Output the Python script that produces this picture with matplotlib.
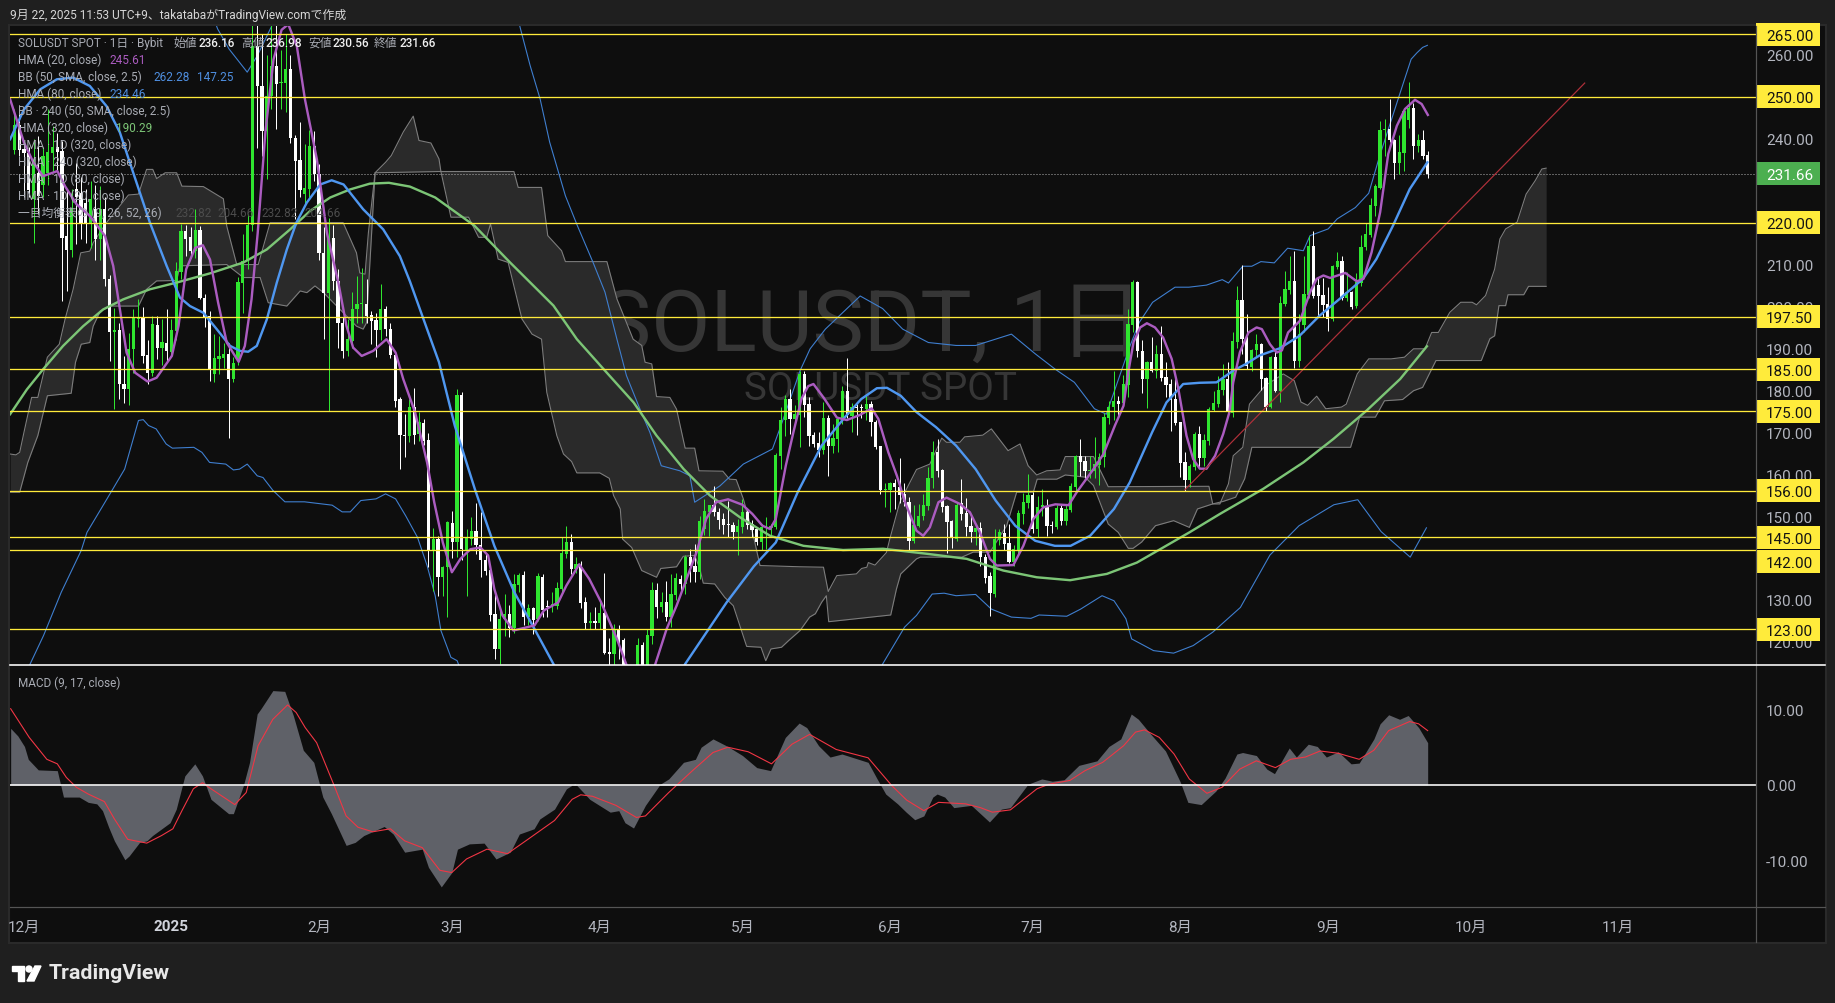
import numpy as np
import matplotlib
matplotlib.use('Agg')
import matplotlib.pyplot as plt
from matplotlib.patches import Rectangle, Polygon, Circle

plt.rcParams['font.family'] = ['Roboto', 'Noto Sans CJK JP', 'DejaVu Sans']

# daily candles, first one is 2024-11-29, day 0 = 2024-12-01
first_day = -2
open_px = [
    237.3,243.2,237.5,236.5,225.6,231.9,228.9,231.9,236.7,238.1,
    237.1,216.8,213.5,228,227,224.8,220,223.2,216,223.2,
    206.5,193.8,194.5,181.4,180.2,189.9,196.9,197.3,188.4,184.2,
    195.6,190,191.4,189.2,194.2,208.2,218,216.6,213.2,218.2,
    202.1,197.7,183.8,187.4,187.8,188.7,182.6,187.4,205.7,210.9,
    219.4,262.1,252.6,241.9,250.2,257.4,253.2,253.2,256.6,240.3,
    234.9,226.9,228.1,238.3,231.5,212.8,203.3,216.4,206.1,196,
    189.4,191.8,199.3,200.5,200.7,197.9,196.7,194.3,199.3,194.7,
    188.4,177.9,169.3,169.2,175.9,169.6,172.2,168.1,141.8,144.5,
    135.4,137.8,148.3,143.7,178.9,142,144.5,146.5,143.1,139.5,
    137.1,126.6,118.3,125.5,126.6,123.2,133.6,135.9,125.9,128,
    125.5,135.4,128.6,128.6,128.6,132.6,141,143.7,137.4,138.3,
    129.4,124.5,124.9,124.5,126.9,117.5,117.1,122.9,120.4,112,
    105.5,105,119.2,109,121.5,132.4,128.2,129.6,125.9,131.2,
    135,133.8,140.2,138.2,136.6,146.9,150.9,152.6,151,149.3,
    148.1,147.9,146.1,147.3,151,148.1,146.9,143.7,147.2,147.1,
    147.3,164.4,172.8,177.9,173.2,174.1,183.9,176.7,169.3,167.4,
    165.8,173.3,166.6,168.4,173.3,179.9,173.8,176.1,175.9,175.5,
    176.7,172.4,166.6,156.2,156.3,157.9,156.9,155.3,153.3,144.1,
    147.7,150.1,152.5,159,165.4,161,152.5,148.8,144.5,153.1,
    150.7,147.6,146.3,147.1,140.3,135.6,131.4,144.3,146,143.6,
    139,141.8,150.5,153.1,155,146.8,152.1,152.1,147.9,147.3,
    151.9,148.9,151.5,156.9,164.4,163.2,160.8,160.8,162.3,164,
    173.4,176,177.4,176.9,181.3,195.6,205.9,189.3,182.7,186.7,
    184.7,188.7,183.1,181.5,177.9,172.4,162.9,158.5,161.6,169.6,
    163.8,168,175.4,176.8,180,182.7,174.6,191.5,201.6,192.4,
    185.5,189.5,191.1,182.9,176,187.9,179.9,200.6,204,206,
    187.1,195.6,202.8,214.5,205.1,202.8,200.6,197,209.5,210.8,
    202,203.4,200,205.6,214.1,217.1,223.9,228.3,242,242.3,
    239.6,234.2,236.6,244.6,247.3,238.4,239.6,236.16]
high_px = [
    247,248,239,238,240,240.7,238,247,243,241.5,
    239.5,228,228,234.3,231,228,230,229,228.8,226,
    207.5,199.7,196,188.2,193.7,199.3,201.7,199.9,192,197.7,
    197.7,197,199.3,197,210.6,219.6,219.5,219,223.3,219.2,
    203,198.9,193.4,193,191.4,191.4,188,207,217.2,222,
    270,275,265,260,268,268,261.3,265,260.1,241,
    244,238.7,242,241.9,234,219,221,219.5,209,197.5,
    197,203.4,207.3,209.1,206.5,199,198.5,205.3,200.2,196,
    189,178.5,174.3,178,180.5,174.9,173.2,169.7,147.1,145.3,
    138.2,148.9,151.2,180.3,179.5,146.9,149.7,153.1,150.9,141.3,
    138,131.6,128.6,131.4,128.9,136.2,136.3,136.8,129,128.2,
    136.3,136.2,130,131.8,134.2,144.9,147.6,145.7,140.2,139.3,
    130.6,127,128.2,129.8,136.3,121,124.3,124,121,114,
    112,120.9,120,123,134.2,134,132,134.4,136.2,136.3,
    136,140.6,142.1,143.3,150.1,154,152.7,157.2,152,150.7,
    153.5,148.5,149.3,154,151.7,149,147.5,148,149.8,148,
    165,175.9,178.9,180.3,176.5,184.7,184.7,178.3,170,170,
    177.1,174,172,173.5,181,187.7,177,176.7,176.7,179.1,
    177.5,173,166.6,158,158.1,158.8,163.8,158,154.5,152.6,
    152.9,155.2,161.6,168,168.4,161.2,152.7,149,153.3,158.8,
    154.2,150.1,148,148.7,141,136.6,146.9,147,148.1,148.1,
    143,151.5,155.5,160,155.7,154.7,156.5,154,148.9,152.7,
    152.7,152.9,158,164.6,168.4,164.4,164.4,168.8,165,174.5,
    177.5,184.5,178.7,183.7,199.3,206.3,206.1,191.9,186.9,192.7,
    190.7,195.3,186.7,182.7,182.7,172.4,165.2,162.5,170,171.6,
    169.6,176,179.9,183.3,186.3,186.7,193.8,204.8,209.8,198.2,
    189.9,193.4,191.3,183.2,188.2,189.9,202.4,208.5,212.1,213.3,
    198.2,212.1,216.7,218.1,207,206.7,204.6,209.8,212.9,212.1,
    208.2,203.8,208,217.1,219.8,225.8,229.2,244.2,244.7,249.5,
    240,240.8,247.1,253.5,248.5,241.2,242,236.98]
low_px = [
    236.3,236,226,226,215.2,222,226,229,232,232,
    201.3,203.6,211.7,215,216,215.2,214,211,211.2,204.8,
    187,175.5,178,177,176.6,184.2,195,186.5,181.5,183.5,
    187.4,186,187,188,192,206.5,212,211.6,211.6,201.7,
    195,182.2,182,183.8,185.4,168.7,182,186,198.5,209,
    218,237.9,236,230.3,247,242.3,247,246.5,239,220.9,
    226,224,226,230,211,192.3,175,204,190,187.6,
    188.2,190,196,196.1,196,191,188,192,193,187.8,
    176,161.2,164,167.7,167.2,168,167,137.8,132.2,130.9,
    131,125.9,140,140.2,139.4,130.9,143,141,135.4,136,
    125,115.9,114.7,121.5,121.2,122,132,124,124,121.9,
    125,126,126,127,127.8,131.8,140,136.2,136.5,128,
    123.1,123,123.1,123,117,114.5,114.5,116,108,95,
    100,103,106,107,119.5,125.6,127,125,123.5,130,
    132,131.5,134.2,134.2,135,145.5,145.3,150,147,145.7,
    144.9,144.5,140.6,146,147,145,143,142,142.2,145,
    147,161.2,169,169.6,172,166.4,173.6,166.8,166.4,164.2,
    164.8,159.6,165,165.2,172,173.5,170,169.3,173.5,173,
    169.2,166,155.3,152.1,150.9,151.7,153,152.5,141.7,143.5,
    147.3,149,151.5,156.6,159.4,151,141.2,142.4,144.1,149,
    145.3,143.9,143,138,134,126.2,130.8,143,142,138.8,
    138,141,148,152,146,144.9,150,145.3,146,146.9,
    147.9,147.9,151,156,159.5,159.2,159,159,157.5,161.7,
    172,173,173.6,176,178.5,194,188,179.4,175.8,184.3,
    183,182.3,178.3,170.4,171.8,159.3,156,157,161,161.6,
    162,167,175,176,179,174.6,173.6,190,188.7,185,
    184.5,188,180,175,175.8,179.7,177.1,200,203,185.3,
    185.5,194,202,202,197.4,197.4,194.2,196.5,209,201.6,
    201.2,199.4,199.6,205,213.5,216.5,221.7,228,236,239.3,
    230.3,231.6,232.4,242.5,235.2,236.9,235.3,230.56]
close_px = [
    243.4,237.3,236.5,227.9,233.9,226.4,235.9,236.8,238.1,236.8,
    216.4,213.5,223.6,226,220,220,225.6,216,223.2,206.5,
    193.8,194.4,181.4,180.4,189.8,197.3,197.3,188.2,184.2,195.7,
    190,191.5,189.4,194.4,208.5,218,216,213.2,218.2,202.1,
    197.3,185,187.8,188.2,188.7,182.8,186.6,205.8,210.9,219.4,
    262.1,252.6,241.9,250.2,257.4,253,253.4,256.6,240.3,234.7,
    227.9,228.3,238.3,231.5,212.8,203.3,216.4,206.1,196,189.4,
    192.2,199.3,200.5,200.7,197.7,196.5,194.3,199.3,194.7,188.4,
    177.5,169.3,169,175.9,169.4,172.4,168,141.8,144.5,135.4,
    137.8,148.5,143.7,178.9,142.2,144.8,146.5,143.1,139.4,137,
    126.5,118.3,125.5,126.6,123.2,133.8,135.9,125.9,128,125.2,
    135.6,127.7,128.4,129,132.8,141.2,143.7,137.4,138.6,129.2,
    124.4,124.9,124.5,126.9,117.4,117.1,122.9,120.3,112,105.5,
    107,119.2,109,121.6,132.4,128.2,129.6,125.9,131.4,135.2,
    133.8,140.2,138.2,136.6,148.9,151.2,152.6,151,149,147.9,
    147.9,146.1,147.6,151,147.9,146.7,143.7,147.3,147.5,147.7,
    164.6,172.9,177.9,173.2,174.4,183.9,176.5,169.2,167.2,165.8,
    173.3,166.8,168.6,173.2,179.9,174,175.9,175.8,175.7,176.7,
    172.4,166.4,156.2,156.5,157.9,156.9,155,153.3,144.1,147.9,
    150.1,152.6,159,165.4,160.8,152.2,148.7,144.7,152.7,150.5,
    147.3,146.1,147.1,140.2,135.2,131.7,144.5,146.1,143.4,139,
    142.2,150.7,153.3,155,146.8,152.2,152.6,147.7,147.7,151.9,
    148.9,151.7,157.1,164.4,163,160.8,161,162.4,164,173.7,
    176,177.4,176.8,181.5,195.8,205.9,189.3,182.7,186.7,184.7,
    188.7,182.9,181.3,177.8,172.2,162.7,158.5,162,169.6,163.8,
    168.2,175.6,176.9,180.1,182.7,174.8,191.7,201.6,192.3,185.7,
    189.6,191.1,182.7,176,187.9,179.9,200.8,204.2,206,187.1,
    193.4,203,214.5,202.6,202.6,200.4,197,209.6,210.9,202,
    203.4,199.8,205.8,214.3,217.3,224.1,228.8,242.1,242.3,239.6,
    234.2,236.8,246.7,247.3,238.4,239.6,235.8,231.66]

# overlays: [day], [value]
hma20_d = [-2.9,0,2,4,7,8.6,11,13.8,17,18.7,20,21.5,23.3,25.9,27.8,31,32.4,34,35.9,37.5,39,40.7,42.5,45,46.3,47.7,49,50.6,52.3,54,55.4,57.2,58.9,61.4,63.5,65.9,67.6,69,70.8,73.2,76,77.9,79.5,82,84.5,86,87.8,89.7,91.5,93.6,95.7,97.3,98.6,100.3,102.6,107,109,112,113.7,116.4,118.5,121,124.3,126.3,128.5,130.5,132.3,134.7,136.8,138.9,141,143,145.1,147.6,150.6,152.7,154.8,156.4,157.6,159.7,161.3,163,164.4,165.5,167.6,170.4,172.5,175.2,177.7,179.1,181.2,183,184.7,187.1,188.5,189.9,191.7,193.4,196.2,198.3,200.4,202.5,203.9,207.4,209.5,211.6,213.7,216.2,219,220.7,224.2,226.3,228.7,230.5,231.5,232.6,234,235.4,237.1,238.8,240.6,242,243.7,245.1,246.5,247.9,249.7,251.4,252.7,253.5,254.9,256.7,258.4,259.5,261.2,262.6,263.7,265,267.5,269.6,271,272.4,273.8,277,279.4,280.8,282.5,284.3,286,287.8,289.5,291.6,293,294.3]
hma20_v = [249.4,239.1,234.3,231.1,232.3,228.7,224.4,221.6,216.8,209.7,200.1,189,184.2,182.1,183,188.2,195.4,208.9,214,214.6,211.2,200.9,191.4,186.8,190.6,201.7,217.6,241.5,258.9,266,267.3,262.1,249.4,235.1,217.6,205.7,195.4,190.2,188.2,189.4,192.2,189,182.7,174.7,162.8,153.3,143.7,136.6,139.8,142.1,142.5,140.6,132.6,126.3,122.7,123.9,127.5,129.4,133.4,138.5,135,129.4,120.7,114.5,106,108,114.5,123,128.6,135,141.4,149.3,153.3,154,152.7,150.5,147.7,146.9,149.3,162,170,178,181,181.5,178.3,173.5,172.9,174.1,175.7,173.2,165.2,159.6,153.3,146.5,145.3,147.3,153.3,154.4,152.9,150.9,146.1,139.8,138.2,138.3,142.9,149.3,152.1,152.8,152.6,155.7,161.2,164.8,171.6,176.3,184.3,191.5,195,196,195,192.6,187.5,180.3,169.2,163.6,161.3,161.3,164.4,169.6,174.8,181.9,189.1,193.8,195,194.6,191,189,189.5,193.8,196.6,203.4,206.6,207.4,206.8,208,206,206.6,212.9,222.5,236.4,243.1,247.1,249.3,248.3,245.7]

hma80_d = [-2.9,0,3.4,6.9,10.3,13.8,17.3,20.1,22.9,26.4,29.9,32.7,34.8,37.6,40.4,43.2,45.3,47,48.8,50.9,53,55.1,57.1,59.3,62.1,64.5,67,71.1,75.3,78.8,80.9,84.5,87,90.3,94.5,98.6,102.8,107,111,118,125,132,138.6,147.3,153,157.6,162.2,167.2,172.1,175.5,178.8,180.9,183.8,187.1,191.2,195.4,199.5,203.7,207.8,212,216.1,219.4,223.5,228.5,231.8,236.5,239.5,243,246.5,250,253.5,256.2,259,263.2,267.4,271.6,275.8,280.7,283.5,287,290.5,294.2]
hma80_v = [239.9,247,251.8,254.2,254.6,252.6,247.8,241.5,231.9,220,209.7,202.1,200.1,198.5,194.6,190.6,189.4,189.2,190.6,196.9,205.7,213.6,220,224.8,229.1,230.1,229.1,223.2,218.4,212,206,194.6,186.7,171.6,156.5,142.9,131.8,123.1,114.7,100,92,100,114.7,129.4,138,143.7,155.7,166.8,173.6,177.9,180.5,180.6,178.7,174.8,171.2,166.8,161.2,153.7,147.7,144.1,142.9,142.9,145.3,151.7,158,170,177.1,181.5,181.8,181.9,184.7,186.3,188.3,190,193,197.8,201.8,206.6,211.3,219.3,228,234.4]

hma320_d = [-2.9,.6,4,8.2,12.4,16.6,20.8,26.4,32,39,46,50.9,55.8,60,64.2,68.3,72.5,76.5,80.9,86.2,94.4,101.9,111,115.9,122.1,127.8,132.6,138.3,143.8,150.1,156.4,163.4,171.7,180.1,189.3,197.6,205.3,212.3,219.3,227,233.3,238.2,244.3,250.7,259.8,268.2,274.5,281.5,288.5,294.1]
hma320_v = [174.3,180.2,185,190.6,195.3,199.3,201.7,204.1,205.7,207.9,210.5,213.6,218.4,222.8,226,227.9,229.3,229.5,228.6,226,219.3,210.5,200.2,192.2,184.3,177.1,169.2,161.2,154.9,149.7,145.3,142.9,141.9,142.2,141,139.8,137,135.4,134.7,136.2,138.9,142.1,146.1,150.5,156.5,162.8,168.4,175.2,182.7,190.5]

bb_up_d = [36,40.6,43,46.8,48.9,53,55,100,104,106.1,108.2,110.2,113.5,116,119.3,121.8,124.3,126.3,129.1,131.2,133.6,137.5,139.6,140.6,145.9,150.8,156.9,158.7,162.7,164.8,168,175.3,180,184.2,189.6,195.4,199.5,207,212,216.1,220.2,224.4,226.9,231.9,233.8,236.6,241.3,244.2,247.9,251.2,252.5,255.5,257.4,259.3,262.1,264.9,268.2,269.6,273.4,275.3,279.1,281.9,284.2,288.5,290.8,292,293.2,294.2]
bb_up_v = [280,266.2,261.4,255.9,259.8,269.4,280,285,266.6,257.5,249.5,239.2,226.4,219.3,210.5,203.4,192.2,183.5,175.6,170,162,160.8,159.6,153.3,157.2,162.4,166,171.6,184.7,189.9,194.6,202.5,199.5,194.6,191.4,190.7,190.7,193.4,188.7,185.1,181.9,175.6,174.3,190.7,196.2,201,204.6,204.6,205.1,206.4,205.6,209.6,209.6,210.7,210.4,213.9,213.3,216.9,218.5,220.9,223.6,227,235.9,251,259,260.5,261.8,262.3]
bb_lo_d = [-3,1.2,4.1,7.8,12,13.2,17.4,21.1,24,25,26.1,27.7,29.8,31.1,35.6,37.3,38.9,42.3,43.9,45.2,46.8,48.9,50.1,52.2,54.7,58.8,64.6,66.7,68.4,70.6,73.8,75.8,77.9,80,82.5,84.5,86.2,87.4,89.5,90.8,91.2,95,120,150,175,180,184.6,187.1,190.4,192.9,195.4,199.5,202.8,207,211.1,212.8,218.6,221.5,226,228.5,231,232.2,236.8,241,245.1,249.2,255,261.2,267.3,274.6,279.6,284.5,290.6,294]
bb_lo_v = [108,114.5,121.5,131.8,141.8,146.1,154.1,161.2,172.8,173,171.6,170.8,167.2,166.2,166.4,165.2,162.8,162.4,161,161.2,162.4,159.6,159.2,156.1,153.4,153.4,152.6,151,151,153.7,154.1,155.3,154.1,150.1,144.9,138.2,131,122.7,116.3,115.5,114.3,110,80,75,95,114.7,123.5,126.3,131.4,131.6,131,131.3,127.8,125.9,125.6,126.4,126.1,127.8,131,129.8,125.5,120.7,117.9,117.3,119.1,122.3,128.2,140.7,147.7,152.7,153.9,146.3,140.2,147.2]

# ichimoku cloud, upper and lower edge
cloud_top_d = [-2.9,-1.7,-.9,0,1.6,2.9,4.9,7.4,8.6,10.3,11.9,13.8,14.5,17.3,21.9,24,25.7,27,27.8,29.6,32,33.1,37.6,41.8,42.5,44.6,49.1,51.6,66.9,69.7,70.4,71.5,72.2,73.6,75.8,77,79.5,81.6,82.8,85.3,87,87.4,102.7,103.6,108.5,109.8,112.7,113.5,122.2,124.3,127.7,129.5,130.2,131.6,132.6,135.4,136.8,138.6,140.6,141.5,146.5,147.9,149.3,150.8,152.9,154.3,162.7,167.6,168.6,170.4,174.5,175.6,176.7,177,178.4,180.8,181.5,183.6,187.1,189.9,192.4,193.4,196.2,197.2,201,202.8,206.3,208.8,210.5,212.3,214.4,217.2,218.3,224.2,227.3,248.4,249.2,250.7,252.5,253.5,255.5,256.9,260.2,264,266.3,267.7,269.1,271,272.9,276.2,277.2,279.5,281.9,286.6,289.4,291.3,293.7,295.1,296.5,298.9,301.2,303.6,304.5,306.4,308.3,309.4,310.6,313,314.9,316.8,318.2,319.1]
cloud_top_v = [164.8,164.6,165.2,170,178.3,178.3,187.9,191,196.9,204.1,212.8,213.2,215.2,220,226.6,226.8,232.7,232.7,230.5,231.9,231.9,228.7,228.6,225.7,219.2,210,210,220,220,212.8,208,207.7,217.6,231.9,234.4,236,241.6,245.4,239.6,239,235.2,232.2,232.2,228.4,228.4,216.9,213.3,210.7,210.7,201.8,192.2,190.7,186.7,186.3,178.5,178.3,175.5,166.2,166.2,160.8,160.7,158.8,158.7,154.1,145.3,138.2,137.9,137.8,132,135.8,136.2,137.5,137.8,138.9,138.3,141.3,144.5,153.3,161.1,162.4,168.6,167.6,167.6,168.9,169.3,170.8,165.6,167.2,162,159.8,160.8,161,164.2,164.2,157,157.1,152.9,152.9,157.7,164.4,166.4,176.7,181.1,183.9,182.3,177.2,176.4,178.6,175.6,176,176.7,183.9,187.5,187.5,187.9,189.9,189.9,193.8,193.8,198.6,201,201,200.4,202.6,208.9,216.1,218.5,220.1,226.8,230,232.8,233]
cloud_bot_d = [-2.9,-.9,.8,2.9,4.9,9.9,10.8,12,13.8,14.5,16,18,24,25.7,27.8,32,32.7,42.5,46,49.5,51.2,55.1,57.9,59.3,61,62.8,69.7,71.1,71.8,73.6,87.4,89.5,93.2,95.3,97,97.8,99.4,101.5,104.4,106.5,108.5,109.6,111.7,113.1,114.8,115.9,120.7,122.7,123.6,125,125.5,127.4,129.5,132.6,133.5,136.8,138.2,140.6,141.7,142.4,144.8,146.9,148.7,151.5,154.5,155.5,156.6,158.8,160.3,162.7,164.7,165.9,167.2,168.2,168.7,181.7,182.9,183.8,187.1,187.9,196.6,199,202.5,206,208.1,211.6,212.4,216.5,218.3,222.4,224.2,227.3,229.4,231.5,232.5,234.3,237.2,241,244.3,246,249.2,251.4,254,255.9,257.4,278.1,280,283.3,285.2,289,291.3,293.2,296,305.5,307.3,308.3,309.2,310.6,311.1,314.4,315.4,319.1]
cloud_bot_v = [155.7,155.7,162.8,169.2,178.7,179.3,186.7,191,191.4,195.3,198.9,200.1,200.1,204.1,206.1,206.2,209.7,210,206.9,206.9,200.9,200.1,203.7,203.3,204.9,203.3,195.3,194.6,196.1,231.9,232.2,221.3,221.3,216.5,216.5,219.7,211.3,210.5,197,193.4,192.2,179.5,169.2,164.8,163,160.3,160.3,159,154.9,151.7,144.5,142.5,137,135.4,137.5,137.9,140.4,140.6,137.4,134,133.8,130.6,128.6,118.9,118.7,115.5,118.3,118.7,120.3,122.7,125.9,126.7,129.4,131,124.8,126.4,132.6,136.2,139.8,140.2,140.2,141.4,141.4,147.7,155.7,155.7,158.8,158.8,159.8,159.3,157.3,148.1,146.1,142.3,142.3,143.8,147.7,148.9,147.3,151.7,152.9,153.5,154.5,158.9,166.4,166.4,173.6,173.6,177.5,177.8,179.9,180.7,187.1,187.1,192.3,193,200.2,200.2,202.8,202.8,204.8,204.8]

macd_d = [-2.8,-1.3,.1,.9,3,7,8.3,11.6,13.5,15.3,16.5,17.8,19,21.2,22.1,24.3,25.8,27,30.7,32,33.8,35.9,37.5,39.3,43,44,46.1,47.4,49,49.8,52.3,54.8,56.6,58.7,60.9,62.8,64.6,67.7,69.6,71.4,75.7,77.6,80,83.7,85,87.7,89.9,91.1,93.6,96.7,99.2,102.2,104.1,107.2,108.4,111.5,114,115.8,118.9,123.2,125,126.3,128.1,130.6,133.7,135.5,138.6,141.1,142.3,144.8,147.9,151,154,156.9,160,162.9,164.5,167,169.4,171.9,177.4,179.3,181.1,183.6,185.4,187.2,189.1,191,191.9,193.5,195.4,199.1,202.9,205.4,207.3,211,213.9,216.1,218.6,221.7,225.5,228,230.5,232.7,234.2,236.7,239.9,243,244.6,247.4,250.5,252.4,254.9,256.1,259,261.2,262.8,265.9,267.4,269.9,271.8,273.7,276.2,278.9,280.6,283.7,285,286.8,289.1,290.9,293.1,295]
macd_v = [7.5,6.5,5.1,3.4,2,1.9,-1.6,-1.6,-2.3,-2.5,-3.4,-5.6,-7.4,-9.9,-9.4,-7.6,-7.4,-6.7,-5,-3.2,1.2,2.8,1.2,-1.9,-3.8,-3.8,-.1,3,9.4,10.1,12.5,12.4,9.2,4.6,3,-1.6,-3.8,-8,-7.6,-6.7,-5.5,-6.5,-8.9,-8.5,-10.9,-13.5,-11.6,-8.5,-7.8,-7.7,-9.8,-8.9,-6.5,-5.8,-4.5,-3.2,-.5,.2,-1.9,-3.6,-3.4,-5,-5.7,-2.7,.1,.8,3,3.4,5,6.1,5.1,3.9,2.3,1.9,6.3,8.2,7.6,5.2,3.7,4.1,3,.8,-1.2,-2.5,-3.6,-4.6,-4.1,-1.6,-1.2,-1.6,-3,-2.7,-4.9,-3.2,-3,.1,.8,.5,.7,2.6,3.2,5.1,6.1,9.4,8.7,6.8,4.5,.4,-2.3,-2.6,-.8,.9,4.1,4.3,3.9,2.1,1.5,4.9,3.7,5.4,5.1,3.7,4.4,2.8,2.9,6.1,8.1,9.3,8.7,9.2,7.6,5.6]
signal_d = [-2.8,1.1,4.8,7,8.9,11,13.5,16.9,19,21.8,25.8,28.9,31.3,33.2,35.6,37.5,39.3,44.3,46.7,49.2,52.3,55.4,57.2,59.1,61.5,65.2,67.7,70.2,73.3,77,80,83.7,87.4,89.9,93,97.3,101.6,105.9,111.5,115.2,117,119.5,124.4,128.7,130.6,135.5,140.5,144.8,147.9,152.2,157.1,161.4,165.1,170.7,177.4,182.4,185.5,189.1,192.2,197.9,201,203.5,207.3,212.9,215.4,219.8,223,226.7,231.1,233.6,235.5,238.6,241.7,244.9,248.6,251.8,255.5,259,263,266.2,269.3,272.4,276.2,280.6,283.7,286.8,291.2,293.1,295]
signal_v = [10.1,6.3,3.4,2.8,1,-.3,-1.2,-2.2,-4.5,-7.2,-7.7,-6.7,-5.8,-3.4,-.5,.3,-.5,-2.6,-1,5.2,8.7,10.6,9.6,7.6,5.6,-.1,-4.1,-5.6,-6.2,-5.8,-7.4,-8.3,-11.3,-11.6,-9.8,-8.5,-9.1,-7.2,-4.7,-1.9,-1.3,-1.5,-2.7,-4.3,-4.1,-1,1.9,4.3,5,4.4,2.8,5.4,6.7,4.7,3.6,-.1,-2,-3.4,-2.3,-2.5,-3,-3.6,-3.3,-.5,.1,.6,1.9,3,5.2,7,7.3,6.3,4.1,.8,-1.1,-.3,2.1,3.2,2.3,3.4,3.7,4.5,4.2,3.4,4.6,7.2,8.4,8.1,7.2]

trend_d = [244.0, 328.0]
trend_v = [156.3, 253.3]

level_prices = [265, 250, 220, 197.5, 185, 175, 156, 145, 142, 123]
level_labels = ['265.00', '250.00', '220.00', '197.50', '185.00', '175.00', '156.00', '145.00', '142.00', '123.00']
# the scale pushes the 142 tag down so it does not sit on the 145 one
tag_prices = [265, 250, 220, 197.5, 185, 175, 156, 145, 139.2, 123]
price_ticks = [120, 130, 150, 160, 170, 180, 190, 200, 210, 240, 260]
macd_ticks = [-10, 0, 10]
month_days = [0, 31, 62, 90, 121, 151, 182, 212, 243, 274, 304, 335]
month_labels = ['12月', '2025', '2月', '3月', '4月', '5月', '6月', '7月', '8月', '9月', '10月', '11月']
last_close = 231.66

BG = '#1f1f1f'
PANE = '#0e0e0e'
GREY = '#b2b5be'
W, H = 1835, 1004
READ_SCALE = 1.0025  # the price overlays were read with a slightly off px/day


def px_axes(left, top, right, bottom):
    return [left / W, 1 - bottom / H, (right - left) / W, (bottom - top) / H]


def lw(px):
    return px * 0.72


fig = plt.figure(figsize=(W / 100, H / 100), dpi=100, facecolor=BG)
panel = Rectangle((9 / W, 1 - 944 / H), 1817 / W, 918 / H, transform=fig.transFigure,
                  facecolor=PANE, edgecolor='#2a2a2a', linewidth=1.5, zorder=-1)
fig.patches.append(panel)

ax = fig.add_axes(px_axes(10, 27, 1756, 666), facecolor=PANE)
ax2 = fig.add_axes(px_axes(10, 666, 1756, 908), facecolor=PANE, sharex=ax)
ax.set_xlim(-2.94, 364.0)
ax.set_ylim(114.47, 266.91)
ax2.set_ylim(-16.16, 15.89)

for a in (ax, ax2):
    for s in a.spines.values():
        s.set_visible(False)
    a.yaxis.tick_right()
    a.tick_params(axis='y', length=0, pad=7.2, labelsize=11, labelcolor=GREY)
    a.tick_params(axis='x', length=0)
    a.set_axisbelow(False)

# watermark
ax.text(0.4937, 0.5305, 'SOLUSDT, 1日', transform=ax.transAxes, fontsize=62, color='#363636',
        ha='center', va='center', zorder=0.5)
ax.text(0.4988, 0.432, 'SOLUSDT SPOT', transform=ax.transAxes, fontsize=27.8, color='#363636',
        ha='center', va='center', zorder=0.5)

# cloud: fill between edges on a shared day grid taken from both edge lists
top_d = np.array(cloud_top_d) * READ_SCALE
bot_d = np.array(cloud_bot_d) * READ_SCALE
grid = np.union1d(top_d, bot_d)
ax.fill_between(grid, np.interp(grid, bot_d, cloud_bot_v), np.interp(grid, top_d, cloud_top_v),
                color='#2a2a2a', linewidth=0, zorder=1)
ax.plot(top_d, cloud_top_v, color='#7d7d7d', lw=lw(1.1), zorder=1.5)
ax.plot(bot_d, cloud_bot_v, color='#7d7d7d', lw=lw(1.1), zorder=1.5)

# bollinger
ax.plot(np.array(bb_up_d) * READ_SCALE, bb_up_v, color='#3f7fd0', lw=lw(1.1), zorder=2)
ax.plot(np.array(bb_lo_d) * READ_SCALE, bb_lo_v, color='#3f7fd0', lw=lw(1.1), zorder=2)

# candles
days = first_day + np.arange(len(close_px))
o = np.array(open_px)
c = np.array(close_px)
colors = np.where(c >= o, '#2fe52f', '#ffffff')
ax.vlines(days, low_px, high_px, colors=colors, lw=lw(1.0), zorder=3)
ax.bar(days, np.maximum(np.abs(c - o), 0.25), bottom=np.minimum(o, c), width=0.68, color=colors,
       linewidth=0, zorder=3.1)

# hull averages
ax.plot(np.array(hma320_d) * READ_SCALE, hma320_v, color='#7cc576', lw=lw(2.4), zorder=4)
ax.plot(np.array(hma80_d) * READ_SCALE, hma80_v, color='#4f97f0', lw=lw(2.4), zorder=4)
ax.plot(np.array(hma20_d) * READ_SCALE, hma20_v, color='#ab5cc0', lw=lw(2.4), zorder=4.2)

ax.plot(trend_d, trend_v, color='#b0303a', lw=lw(1.2), zorder=4.5)

for p in level_prices:
    ax.axhline(p, color='#ffeb3b', lw=lw(1.3), zorder=5)
ax.axhline(last_close, color='#b0b0b0', lw=lw(1), ls=(0, (1, 2)), zorder=2.5)

ax.set_yticks(price_ticks)
ax.set_yticklabels(['%.2f' % t for t in price_ticks])
ax.set_xticks(month_days)
ax.tick_params(axis='x', labelbottom=False)

# price tags on the scale
tag_w = 64 / 1746
tag_h = 23 / 4.192
tr = ax.get_yaxis_transform()
for p, lab in zip(tag_prices, level_labels):
    ax.add_patch(Rectangle((1.0, p - tag_h / 2), tag_w, tag_h, transform=tr, clip_on=False,
                           facecolor='#ffeb3b', edgecolor='none', zorder=8))
    ax.text(1 + 10 / 1746, p, lab, transform=tr, color='#131313', fontsize=11, ha='left',
            va='center_baseline', zorder=9, clip_on=False)
ax.add_patch(Rectangle((1.0, last_close - tag_h / 2), tag_w, tag_h, transform=tr, clip_on=False,
                       facecolor='#4caf50', edgecolor='none', zorder=8))
ax.text(1 + 10 / 1746, last_close, '%.2f' % last_close, transform=tr, color='white', fontsize=11,
        ha='left', va='center_baseline', zorder=9, clip_on=False)

# macd pane
ax2.fill_between(np.array(macd_d), macd_v, 0, color='#5f6168', linewidth=0, zorder=1)
ax2.plot(signal_d, signal_v, color='#f23645', lw=lw(1.1), zorder=3)
ax2.axhline(0, color='white', lw=lw(1.6), zorder=4)
ax2.set_yticks(macd_ticks)
ax2.set_yticklabels(['-10.00', '0.00', '10.00'])
ax2.set_xticks(month_days)
ax2.set_xticklabels(month_labels, fontsize=11, color=GREY)
ax2.tick_params(axis='x', pad=9)
for t in ax2.get_xticklabels():
    if t.get_text() == '2025':
        t.set_fontweight('bold')
        t.set_color('#d1d4dc')

# overlay in pixels for chrome and legend
ov = fig.add_axes([0, 0, 1, 1], zorder=20)
ov.set_xlim(0, W)
ov.set_ylim(H, 0)
ov.axis('off')
ov.patch.set_alpha(0)

ov.plot([10, 1825], [666, 666], color='white', lw=lw(1.6))
ov.plot([10, 1825], [908, 908], color='#555555', lw=lw(1.2))
ov.plot([1756, 1756], [27, 943], color='#555555', lw=lw(1.2), zorder=1)

ov.text(10, 15, '9月 22, 2025 11:53 UTC+9、takatabaがTradingView.comで作成', fontsize=8.6, color='#d6d6d6',
        va='center', ha='left')

LEG = '#a9acb4'
row_y = [42, 59, 76, 93, 110, 127, 144, 161, 178, 195, 212]
leg_rows = ['SOLUSDT SPOT · 1日 · Bybit', 'HMA (20, close)', 'BB (50, SMA, close, 2.5)', 'HMA (80, close)',
            'BB · 240 (50, SMA, close, 2.5)', 'HMA (320, close)', 'HMA · 1D (320, close)',
            'HMA · 240 (320, close)', 'HMA · 1D (80, close)', 'HMA · 1D (20, close)',
            '一目均衡表の (9, 26, 52, 26)']
for y, s in zip(row_y, leg_rows):
    ov.text(18, y, s, fontsize=8.5, color=LEG, va='center_baseline', ha='left')
ov.text(18, 682, 'MACD (9, 17, close)', fontsize=8.5, color=LEG, va='center_baseline', ha='left')

ohlc_names = ['始値', '高値', '安値', '終値']
ohlc_vals = ['236.16', '236.98', '230.56', '231.66']
for nx, vx, n, v in zip([173, 241, 308, 374], [198, 265, 332, 399], ohlc_names, ohlc_vals):
    ov.text(nx, row_y[0], n, fontsize=8.5, color=LEG, va='center_baseline')
    ov.text(vx, row_y[0], v, fontsize=8.5, color='#f0f0f0', va='center_baseline', fontweight='medium')

ov.text(109, row_y[1], '245.61', fontsize=8.5, color='#ab5cc0', va='center_baseline')
ov.text(153, row_y[2], '262.28', fontsize=8.5, color='#4f8fe0', va='center_baseline')
ov.text(197, row_y[2], '147.25', fontsize=8.5, color='#4f8fe0', va='center_baseline')
ov.text(109, row_y[3], '234.46', fontsize=8.5, color='#4f8fe0', va='center_baseline')
ov.text(116, row_y[5], '190.29', fontsize=8.5, color='#7cc576', va='center_baseline')
for vx, v in zip([175, 217.5, 261, 304], ['232.82', '204.66', '232.82', '204.66']):
    ov.text(vx, row_y[10], v, fontsize=8.5, color='#4c4c4c', va='center_baseline')

# tradingview logo
ov.add_patch(Polygon([(12, 967), (24, 967), (24, 982), (18, 982), (18, 972), (12, 972)], color='white'))
ov.add_patch(Circle((29, 970), 3, color='white'))
ov.add_patch(Polygon([(35, 967), (41, 967), (34, 982), (27, 982)], color='white'))
ov.text(49, 974, 'TradingView', fontsize=15.4, color='#e8e8e8', va='center', ha='left', fontweight='bold')

fig.savefig('out.png', dpi=100, facecolor=fig.get_facecolor())
